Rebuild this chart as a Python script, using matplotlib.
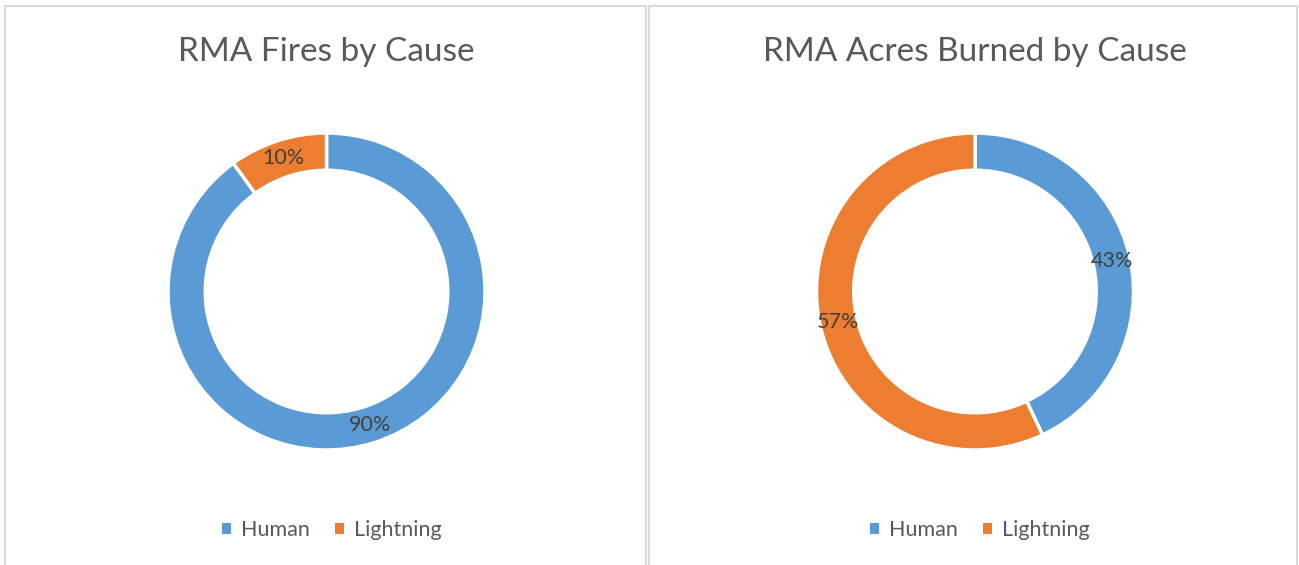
import matplotlib
matplotlib.use("Agg")
import matplotlib.pyplot as plt
from matplotlib.patches import Rectangle, Patch

categories = ["Human", "Lightning"]
fires_pct = [90, 10]
acres_pct = [43, 57]
titles = ["RMA Fires by Cause", "RMA Acres Burned by Cause"]
colors = ["#5B9BD5", "#ED7D31"]

W, H = 1299, 565
plt.rcParams['font.family'] = ['Lato', 'DejaVu Sans']
fig = plt.figure(figsize=(W / 100, H / 100), dpi=100)
fig.patch.set_facecolor("white")

# panel borders (pixel coords from top-left)
panels = [(5, 646), (649, 1297)]
for x0, x1 in panels:
    fig.patches.append(Rectangle((x0 / W, -0.01), (x1 - x0) / W, 1 - 6 / H + 0.01,
                                 transform=fig.transFigure, fill=False,
                                 edgecolor="#d9d9d9", linewidth=1.5))

centers = [326.5, 975]
cy, R = 291.5, 158.5
datasets = [fires_pct, acres_pct]

for i, (cx, data, title) in enumerate(zip(centers, datasets, titles)):
    ax = fig.add_axes([(cx - R) / W, (H - cy - R) / H, 2 * R / W, 2 * R / H])
    wedges, texts, autotexts = ax.pie(
        data, colors=colors, startangle=90, counterclock=False, radius=1,
        autopct='%.0f%%', pctdistance=0.883,
        wedgeprops=dict(width=0.235, edgecolor="white", linewidth=2.5),
        textprops=dict(color="#404040", fontsize=15.5))
    ax.set_xlim(-1, 1)
    ax.set_ylim(-1, 1)
    ax.set_aspect('equal')
    ax.axis('off')
    fig.text(cx / W, 1 - 52 / H, title, ha='center', va='center',
             fontsize=24, color="#595959")
    handles = [Patch(facecolor=c, edgecolor='none') for c in colors]
    fig.legend(handles, categories, loc='center', bbox_to_anchor=((cx + 5) / W, 1 - 530 / H),
               ncol=2, frameon=False, fontsize=15.5, handlelength=0.42, handleheight=0.42,
               handletextpad=0.47, columnspacing=1.16, labelcolor="#595959")

fig.savefig("out.png", dpi=100, facecolor="white")
